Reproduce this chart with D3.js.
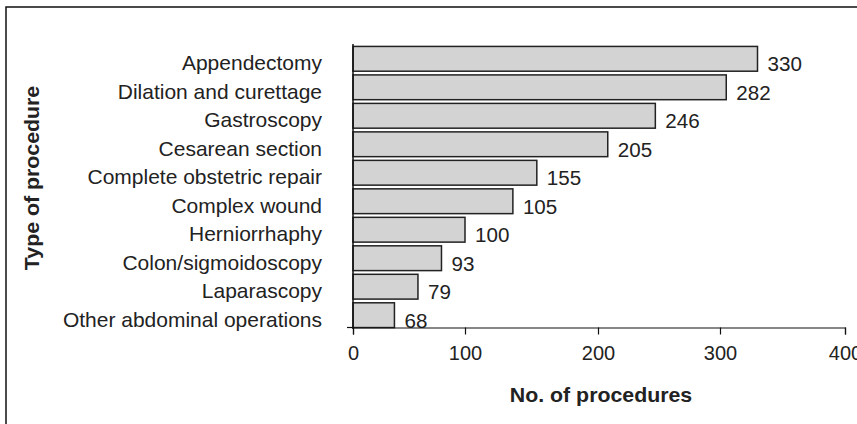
<!DOCTYPE html>
<html><head><meta charset="utf-8">
<script src="https://cdn.jsdelivr.net/npm/d3@7"></script>
<style>body{margin:0;background:#fff}svg{display:block}text{font-family:"Liberation Sans",Arial,sans-serif;fill:#222}</style>
</head><body><svg id="c" width="857" height="424"></svg>
<script>
const categories = ["Appendectomy","Dilation and curettage","Gastroscopy","Cesarean section","Complete obstetric repair","Complex wound","Herniorrhaphy","Colon/sigmoidoscopy","Laparascopy","Other abdominal operations"];
const barValues = [330, 305, 247, 208, 154, 136, 100, 79, 58, 37];
const valueLabels = [330, 282, 246, 205, 155, 105, 100, 93, 79, 68];
const tickValues = [0, 100, 200, 300, 400];

const svg = d3.select("#c");
svg.append("rect").attr("x",6).attr("y",7).attr("width",900).attr("height",500)
  .attr("fill","none").attr("stroke","#111").attr("stroke-width",1.5);

const x = d3.scaleLinear().domain(tickValues).range([353, 465, 598, 720, 845]);
const y = d3.scaleBand().domain(categories).range([45, 329]).paddingInner(0.13).paddingOuter(0.05);

const g = svg.append("g");
g.selectAll("rect.bar").data(categories).join("rect").attr("class","bar")
  .attr("x", x(0)).attr("y", d => y(d))
  .attr("width", (d,i) => x(barValues[i]) - x(0)).attr("height", y.bandwidth())
  .attr("fill","#d3d3d3").attr("stroke","#222").attr("stroke-width",1.5);

g.selectAll("text.val").data(categories).join("text").attr("class","val")
  .attr("transform", (d,i) => `translate(${x(barValues[i]) + 10},${y(d) + y.bandwidth()/2 + 12.5}) scale(1.03,1)`)
  .attr("font-size",20).text((d,i) => valueLabels[i]);

g.selectAll("text.cat").data(categories).join("text").attr("class","cat")
  .attr("transform", d => `translate(322,${y(d) + y.bandwidth()/2 + 11.5}) scale(1.05,1)`)
  .attr("text-anchor","end").attr("font-size",20).text(d => d);

svg.append("line").attr("x1",x(0)).attr("x2",x(0)).attr("y1",44).attr("y2",329)
  .attr("stroke","#111").attr("stroke-width",1.5);
svg.append("line").attr("x1",x(0)-6).attr("x2",x(0)).attr("y1",327.5).attr("y2",327.5)
  .attr("stroke","#111").attr("stroke-width",1.2);

const xAxis = svg.append("g").attr("transform","translate(0,327.5)")
  .call(d3.axisBottom(x).tickValues(tickValues).tickSize(7).tickPadding(11).tickFormat(d3.format("d")));
xAxis.select(".domain").attr("stroke","#111").attr("stroke-width",1.2);
xAxis.selectAll(".tick line").attr("stroke","#111").attr("stroke-width",1.2);
xAxis.selectAll(".tick text").attr("font-size",20).attr("font-family","Liberation Sans, Arial, sans-serif").attr("fill","#222");

svg.append("text").attr("transform","translate(601,402) scale(1.04,1)").attr("text-anchor","middle")
  .attr("font-size",20.5).attr("font-weight","bold").text("No. of procedures");
svg.append("text").attr("transform","translate(38.5,178) rotate(-90) scale(1.04,1)").attr("text-anchor","middle")
  .attr("font-size",20.5).attr("font-weight","bold").text("Type of procedure");
</script></body></html>
